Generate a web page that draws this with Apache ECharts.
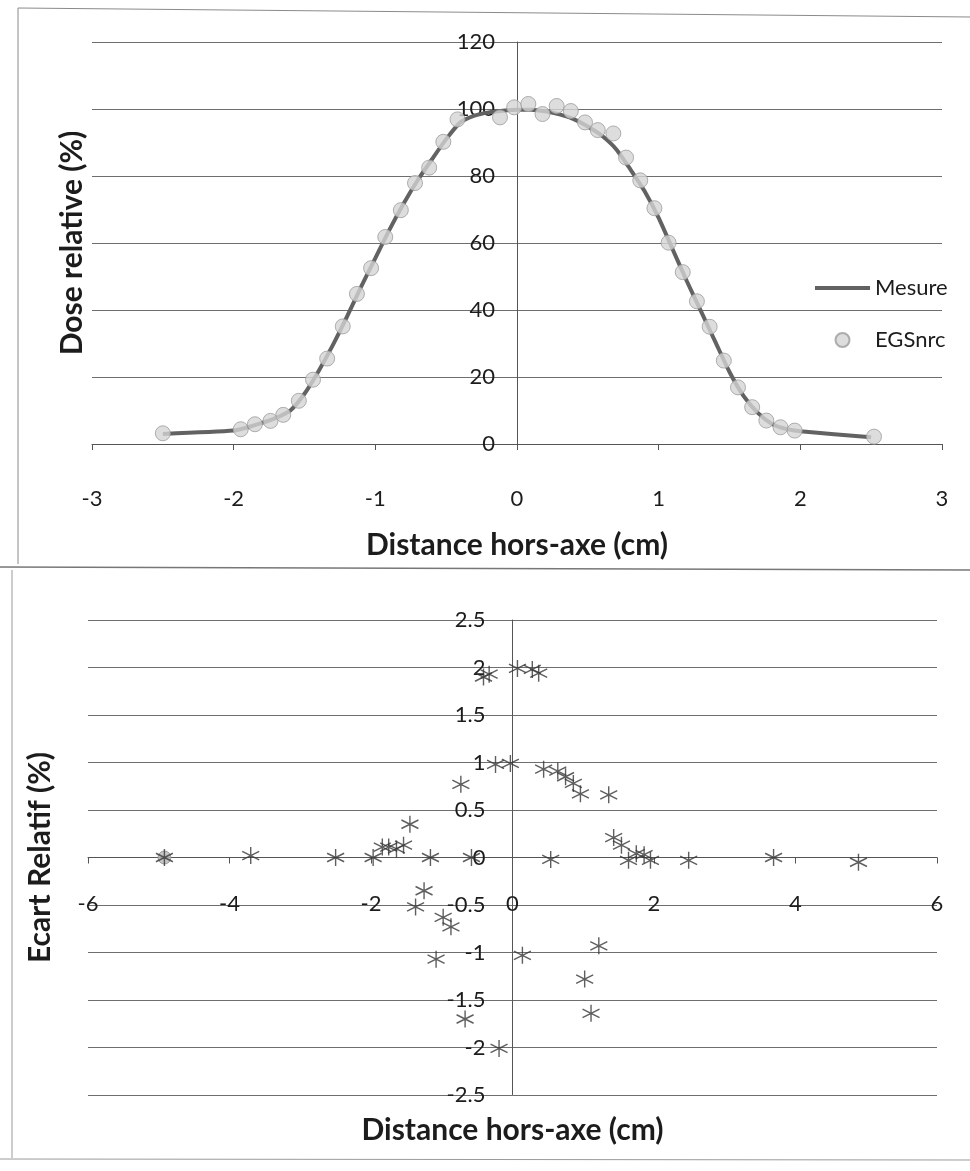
<!DOCTYPE html>
<html>
<head>
<meta charset="utf-8">
<script src="https://cdn.jsdelivr.net/npm/echarts@6/dist/echarts.min.js"></script>
<style>
  html, body { margin: 0; padding: 0; background: #ffffff; }
  #chart { width: 970px; height: 1171px; }
</style>
</head>
<body>
<div id="chart"></div>
<script>
// Profil de dose hors-axe : mesure (courbe) et simulation EGSnrc (points)
const mesureX = [-2.5, -2.0, -1.9, -1.8, -1.7, -1.6, -1.5, -1.4, -1.3, -1.2, -1.1, -1.0, -0.9, -0.8, -0.7, -0.6, -0.5, -0.4, -0.3, -0.2, -0.1, 0.0,
                 0.1, 0.2, 0.3, 0.4, 0.5, 0.6, 0.7, 0.8, 0.9, 1.0, 1.1, 1.2, 1.3, 1.4, 1.5, 1.6, 1.7, 1.8, 1.9, 2.0, 2.5];
const mesureY = [3.0, 4.0, 5.0, 6.3, 7.8, 10.0, 15.0, 21.8, 29.5, 38.0, 47.0, 55.5, 64.0, 71.8, 78.8, 85.0, 91.0, 96.0, 98.0, 99.0, 99.5, 99.8,
                 99.8, 99.3, 98.4, 97.0, 94.8, 92.0, 88.0, 82.0, 75.5, 67.5, 58.0, 48.5, 39.5, 30.5, 21.5, 14.3, 9.3, 6.0, 4.5, 3.8, 2.0];

const egsX = [-2.50, -1.95, -1.85, -1.74, -1.65, -1.54, -1.44, -1.34, -1.23, -1.13, -1.03, -0.93, -0.82, -0.72, -0.62, -0.52, -0.42,
              -0.12, -0.02, 0.08, 0.18, 0.28, 0.38, 0.48, 0.57, 0.68, 0.77, 0.87, 0.97, 1.07, 1.17, 1.27, 1.36, 1.46, 1.56, 1.66, 1.76, 1.86, 1.96, 2.52];
const egsY = [3.2, 4.4, 5.9, 6.9, 8.7, 12.9, 19.2, 25.5, 35.1, 44.8, 52.5, 61.8, 69.8, 77.9, 82.5, 90.2, 96.9,
              97.5, 100.5, 101.5, 98.5, 100.9, 99.4, 96.0, 93.7, 92.7, 85.5, 78.7, 70.4, 60.1, 51.3, 42.6, 35.0, 24.9, 16.9, 11.0, 7.0, 5.0, 4.0, 2.2];

// Écart relatif simulation / mesure
const ecartX = [-4.92, -3.70, -2.50, -1.97, -1.84, -1.75, -1.64, -1.54, -1.45, -1.37, -1.25, -1.16, -1.08, -0.98, -0.87, -0.73, -0.67, -0.58,
                -0.41, -0.33, -0.24, -0.19, -0.03, 0.07, 0.14, 0.28, 0.37, 0.44, 0.54, 0.64, 0.75, 0.86, 0.96, 1.02, 1.11, 1.22,
                1.36, 1.43, 1.54, 1.64, 1.75, 1.86, 1.95, 2.49, 3.69, 4.89];
const ecartY = [0.0, 0.02, 0.0, 0.0, 0.11, 0.11, 0.09, 0.13, 0.35, -0.52, -0.35, 0.0, -1.07, -0.63, -0.73, 0.77, -1.70, 0.0,
                1.90, 1.93, 0.98, -2.01, 0.99, 1.99, -1.03, 1.98, 1.94, 0.93, -0.02, 0.91, 0.85, 0.78, 0.67, -1.28, -1.64, -0.93,
                0.66, 0.21, 0.13, -0.03, 0.04, 0.03, -0.03, -0.03, 0.0, -0.05];
const repereX = [-4.92];
const repereY = [0.0];

const pairs = (xs, ys) => xs.map((x, i) => [x, ys[i]]);

const FONT = 'Lato, "Open Sans", sans-serif';
const TEXT = '#1c1c1c';
const AXIS = '#555555';
const GRID = '#6e6e6e';
const STAR = 'path://M0,-10L0,10M-8.66,-5L8.66,5M-8.66,5L8.66,-5';
const LINE_ICON = 'path://M0,0L55,0L55,4L0,4Z';

// Emplacement des deux zones de tracé (px)
const G1 = { left: 92, top: 42, width: 850, height: 402 };
const G2 = { left: 88, top: 620, width: 849, height: 475 };

const tickLabel = { color: TEXT, fontFamily: FONT, fontSize: 22 };
const axisTitle = { color: TEXT, fontFamily: FONT, fontSize: 30, fontWeight: 'bold' };

const chart = echarts.init(document.getElementById('chart'), null, { renderer: 'canvas' });

chart.setOption({
  backgroundColor: '#ffffff',
  animation: false,
  textStyle: { fontFamily: FONT },
  grid: [
    Object.assign({ outerBoundsMode: 'none' }, G1),
    Object.assign({ outerBoundsMode: 'none' }, G2)
  ],
  legend: {
    data: [{ name: 'Mesure', icon: LINE_ICON }, { name: 'EGSnrc' }],
    orient: 'vertical',
    left: 810,
    top: 272,
    itemWidth: 55,
    itemHeight: 14,
    itemGap: 30,
    textStyle: { color: TEXT, fontFamily: FONT, fontSize: 22 }
  },
  xAxis: [
    {
      gridIndex: 0, type: 'value', min: -3, max: 3, interval: 1,
      axisLine: { onZero: false, lineStyle: { color: AXIS, width: 1 } },
      axisTick: { show: true, length: 6, lineStyle: { color: AXIS } },
      axisLabel: Object.assign({ margin: 44 }, tickLabel),
      splitLine: { show: false },
      name: 'Distance hors-axe (cm)', nameLocation: 'middle', nameGap: 86,
      nameTextStyle: axisTitle
    },
    {
      // axe horizontal placé sur l'ordonnée 0
      gridIndex: 1, type: 'value', min: -6, max: 6, interval: 2,
      offset: -237.5,
      axisLine: { onZero: false, lineStyle: { color: AXIS, width: 1 } },
      axisTick: { show: true, length: 6, lineStyle: { color: AXIS } },
      axisLabel: Object.assign({ margin: 35 }, tickLabel),
      splitLine: { show: false },
      name: 'Distance hors-axe (cm)', nameLocation: 'middle', nameGap: 258,
      nameTextStyle: axisTitle
    }
  ],
  yAxis: [
    {
      // axe vertical placé sur l'abscisse 0
      gridIndex: 0, type: 'value', min: 0, max: 120, interval: 20,
      offset: -425,
      axisLine: { show: true, onZero: false, lineStyle: { color: AXIS, width: 1 } },
      axisTick: { show: false },
      axisLabel: Object.assign({ margin: 22 }, tickLabel),
      splitLine: { show: true, lineStyle: { color: GRID, width: 1 } },
      name: 'Dose relative (%)', nameLocation: 'middle', nameGap: 430,
      nameTextStyle: axisTitle
    },
    {
      gridIndex: 1, type: 'value', min: -2.5, max: 2.5, interval: 0.5,
      offset: -424.5,
      axisLine: { show: true, onZero: false, lineStyle: { color: AXIS, width: 1 } },
      axisTick: { show: false },
      axisLabel: Object.assign({ margin: 27 }, tickLabel),
      splitLine: { show: true, lineStyle: { color: GRID, width: 1 } },
      name: 'Ecart Relatif (%)', nameLocation: 'middle', nameGap: 457,
      nameTextStyle: axisTitle
    }
  ],
  series: [
    {
      name: 'Mesure', type: 'line', xAxisIndex: 0, yAxisIndex: 0,
      data: pairs(mesureX, mesureY),
      showSymbol: false, symbol: 'none', smooth: 0.2,
      lineStyle: { color: '#626262', width: 4 },
      itemStyle: { color: '#626262' },
      z: 2
    },
    {
      name: 'EGSnrc', type: 'scatter', xAxisIndex: 0, yAxisIndex: 0,
      data: pairs(egsX, egsY),
      symbol: 'circle', symbolSize: 15,
      itemStyle: { color: '#d4d4d4', borderColor: '#9c9c9c', borderWidth: 1 },
      z: 3
    },
    {
      name: 'Repère', type: 'scatter', xAxisIndex: 1, yAxisIndex: 1,
      data: pairs(repereX, repereY),
      symbol: 'circle', symbolSize: 13,
      itemStyle: { color: '#b8b8b8', borderColor: '#8c8c8c', borderWidth: 1 },
      z: 2
    },
    {
      name: 'Ecart', type: 'scatter', xAxisIndex: 1, yAxisIndex: 1,
      data: pairs(ecartX, ecartY),
      symbol: STAR, symbolSize: 17,
      itemStyle: { color: '#363636', borderColor: '#363636', borderWidth: 1.4 },
      z: 3
    }
  ],
  graphic: [
    // cadres des deux figures
    { type: 'line', silent: true, shape: { x1: 18, y1: 8, x2: 970, y2: 17 }, style: { stroke: '#8a8a8a', lineWidth: 1 } },
    { type: 'line', silent: true, shape: { x1: 18, y1: 8, x2: 18, y2: 564 }, style: { stroke: '#8a8a8a', lineWidth: 1 } },
    { type: 'line', silent: true, shape: { x1: 0, y1: 567, x2: 970, y2: 570 }, style: { stroke: '#777777', lineWidth: 1.5 } },
    { type: 'line', silent: true, shape: { x1: 12, y1: 570, x2: 12, y2: 1158 }, style: { stroke: '#9a9a9a', lineWidth: 1 } },
    { type: 'line', silent: true, shape: { x1: 0, y1: 1159, x2: 970, y2: 1160 }, style: { stroke: '#9a9a9a', lineWidth: 1 } }
  ]
});
</script>
</body>
</html>
